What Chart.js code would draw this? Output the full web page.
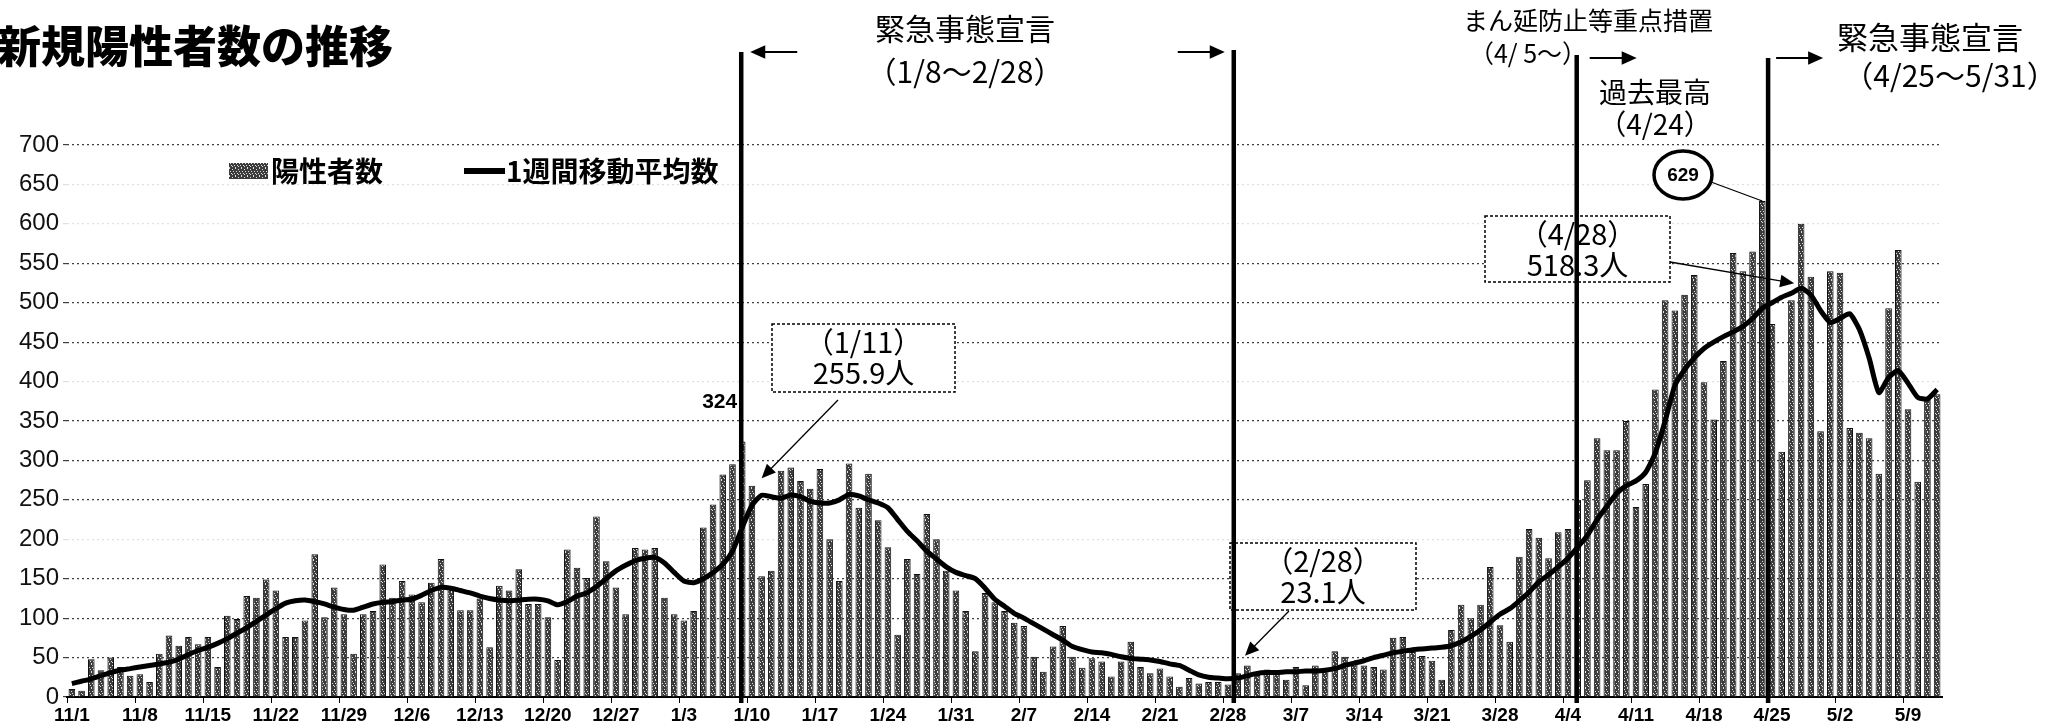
<!DOCTYPE html>
<html>
<head>
<meta charset="utf-8">
<script src="https://cdn.jsdelivr.net/npm/chart.js@4/dist/chart.umd.min.js"></script>
<style>
  html, body { margin: 0; padding: 0; background: #fff; }
  canvas { display: block; }
</style>
</head>
<body>
<canvas id="chart" width="2051" height="723"></canvas>
<script>
// Days shown: 11/1 .. 5/12 (month, last day shown)
const monthSpans = [[11, 30], [12, 31], [1, 31], [2, 28], [3, 31], [4, 30], [5, 12]];
const dates = [];
monthSpans.forEach(([m, n]) => { for (let d = 1; d <= n; d++) dates.push(m + '/' + d); });

const tickLabels = ['11/1', '11/8', '11/15', '11/22', '11/29', '12/6', '12/13', '12/20', '12/27',
  '1/3', '1/10', '1/17', '1/24', '1/31', '2/7', '2/14', '2/21', '2/28', '3/7', '3/14', '3/21',
  '3/28', '4/4', '4/11', '4/18', '4/25', '5/2', '5/9'];

// 陽性者数 (daily)
const positives = [
  10, 8, 48, 34, 50, 38, 27,
  29, 19, 55, 78, 65, 76, 67,
  76, 38, 103, 99, 128, 126, 149,
  135, 76, 76, 97, 181, 101, 139,
  105, 55, 105, 109, 168, 126, 147,
  130, 120, 145, 175, 140, 110, 110,
  125, 63, 141, 135, 162, 118, 118,
  101, 47, 187, 164, 151, 229, 172,
  139, 105, 189, 187, 189, 126, 105,
  97, 109, 215, 244, 282, 295, 324,
  268, 153, 160, 287, 291, 274, 264,
  289, 200, 147, 296, 240, 283, 224,
  190, 79, 175, 156, 232, 200, 160,
  135, 109, 58, 132, 120, 109, 94,
  90, 51, 32, 64, 90, 51, 37,
  49, 45, 26, 45, 70, 38, 30,
  36, 26, 13, 24, 17, 19, 19,
  16, 30, 40, 28, 35, 30, 22,
  38, 15, 40, 35, 58, 51, 45,
  40, 38, 35, 75, 76, 57, 52,
  46, 22, 85, 117, 100, 117, 165,
  91, 70, 178, 213, 202, 176, 209,
  213, 250, 275, 328, 313, 313, 350,
  241, 270, 390, 503, 490, 510, 535,
  399, 352, 426, 563, 540, 565, 629,
  473, 311, 503, 600, 533, 337, 540,
  538, 341, 335, 328, 283, 493, 567,
  365, 273, 377, 384
];

// 1週間移動平均数
const movingAvg = [
  17, 20, 23, 27, 31, 34, 36,
  38, 40, 42, 44, 48, 54, 59,
  63, 68, 74, 81, 88, 96, 104,
  112, 119, 122, 123, 121, 118, 114,
  111, 110, 114, 118, 120, 121, 123,
  124, 129, 135, 139, 138, 135, 132,
  128, 125, 123, 122, 123, 124, 124,
  122, 117, 121, 128, 132, 140, 150,
  160, 167, 173, 176, 177, 170, 158,
  147, 145, 150, 158, 168, 185, 215,
  243, 255.9, 254, 252, 256, 254, 248,
  246, 246, 250, 257, 255, 250, 246,
  240, 225, 210, 198, 185, 175, 165,
  158, 154, 150, 138, 124, 115, 106,
  100, 93, 86, 79, 72, 64, 60,
  57, 56, 54, 51, 49, 48, 47,
  45, 42, 40, 34, 28, 25, 24,
  23.1, 24, 27, 30, 31, 31, 32,
  32, 33, 33, 34, 36, 40, 43,
  46, 50, 53, 56, 58, 60, 61,
  62, 63, 65, 70, 77, 85, 95,
  105, 112, 122, 133, 146, 155, 165,
  176, 190, 205, 225, 242, 258, 268,
  274, 285, 310, 350, 395, 415, 430,
  442, 450, 457, 463, 470, 480, 493,
  500, 507, 512, 518.3, 510, 490, 475,
  480, 486, 466, 430, 386, 405, 414,
  398, 380, 378, 390
];

const yTicks = [0, 50, 100, 150, 200, 250, 300, 350, 400, 450, 500, 550, 600, 650, 700];
const faintGrid = [200, 400, 600, 650];

// speckled bar fill like the scanned original
function barPattern() {
  const c = document.createElement('canvas');
  c.width = 6; c.height = 8;
  const g = c.getContext('2d');
  g.fillStyle = '#3c3c3c';
  g.fillRect(0, 0, 6, 8);
  g.fillStyle = '#e0e0e0';
  [[1, 0], [4, 1], [2, 3], [5, 3], [0, 5], [3, 5], [1, 7], [4, 6]].forEach(p => g.fillRect(p[0], p[1], 1, 1));
  return g.createPattern(c, 'repeat');
}
const pattern = barPattern();

const JP = '"Noto Sans CJK JP", sans-serif';
const LAT = '"Liberation Sans", Arial, sans-serif';

function arrow(ctx, x1, y1, x2, y2, head, width) {
  const a = Math.atan2(y2 - y1, x2 - x1);
  ctx.save();
  ctx.strokeStyle = '#000';
  ctx.fillStyle = '#000';
  ctx.lineWidth = width;
  ctx.beginPath();
  ctx.moveTo(x1, y1);
  ctx.lineTo(x2 - Math.cos(a) * head * 0.8, y2 - Math.sin(a) * head * 0.8);
  ctx.stroke();
  ctx.beginPath();
  ctx.moveTo(x2, y2);
  ctx.lineTo(x2 - head * Math.cos(a) + head * 0.45 * Math.sin(a), y2 - head * Math.sin(a) - head * 0.45 * Math.cos(a));
  ctx.lineTo(x2 - head * Math.cos(a) - head * 0.45 * Math.sin(a), y2 - head * Math.sin(a) + head * 0.45 * Math.cos(a));
  ctx.closePath();
  ctx.fill();
  ctx.restore();
}

function text(ctx, s, x, y, font, align) {
  ctx.save();
  ctx.font = font;
  ctx.fillStyle = '#000';
  ctx.textAlign = align || 'center';
  ctx.textBaseline = 'middle';
  ctx.fillText(s, x, y);
  ctx.restore();
}

function callout(ctx, bx, by, bw, bh, line1, line2) {
  ctx.save();
  ctx.fillStyle = '#fff';
  ctx.fillRect(bx, by, bw, bh);
  ctx.strokeStyle = '#000';
  ctx.lineWidth = 1.5;
  ctx.setLineDash([3, 2]);
  ctx.strokeRect(bx, by, bw, bh);
  ctx.restore();
  text(ctx, line1, bx + bw / 2, by + 18, '29px ' + JP);
  text(ctx, line2, bx + bw / 2, by + 49, '29px ' + JP);
}

const annotations = {
  id: 'annotations',
  afterDatasetsDraw(chart) {
    const ctx = chart.ctx;
    const x = chart.scales.x, y = chart.scales.y;
    const base = y.getPixelForValue(0);

    // title
    text(ctx, '新規陽性者数の推移', -3, 46, '900 44px ' + JP, 'left');

    // legend
    ctx.save();
    ctx.fillStyle = pattern;
    ctx.fillRect(229, 163, 39, 16);
    ctx.restore();
    text(ctx, '陽性者数', 271, 171, 'bold 28px ' + JP, 'left');
    ctx.save();
    ctx.strokeStyle = '#000';
    ctx.lineWidth = 6;
    ctx.beginPath(); ctx.moveTo(464, 171); ctx.lineTo(505, 171); ctx.stroke();
    ctx.restore();
    text(ctx, '1週間移動平均数', 506, 171, 'bold 28px ' + JP, 'left');

    // callout boxes
    callout(ctx, 772, 324, 183, 68, '（1/11）', '255.9人');
    callout(ctx, 1230, 543, 186, 67, '（2/28）', '23.1人');
    callout(ctx, 1485, 216, 185, 66, '（4/28）', '518.3人');

    const p1x = x.getPixelForValue(71), p1y = y.getPixelForValue(255.9);
    arrow(ctx, 838, 400, p1x, p1y - 17, 14, 1.3);
    const p2x = x.getPixelForValue(119), p2y = y.getPixelForValue(23.1);
    arrow(ctx, 1289, 611, p2x + 17, p2y - 23, 14, 1.3);
    const p3x = x.getPixelForValue(178), p3y = y.getPixelForValue(518.3);
    arrow(ctx, 1670, 262, p3x - 7, p3y - 5, 14, 1.3);

    // vertical period lines
    const lines = [[68.9, 52], [119.6, 50], [154.9, 55], [174.6, 58]];
    const lx = lines.map(l => x.getPixelForValue(l[0]));
    ctx.save();
    ctx.strokeStyle = '#000';
    ctx.lineWidth = 4.5;
    lines.forEach((l, i) => {
      ctx.beginPath();
      ctx.moveTo(lx[i], l[1]);
      ctx.lineTo(lx[i], base + 6);
      ctx.stroke();
    });
    ctx.restore();

    arrow(ctx, lx[0] + 56, 52, lx[0] + 9, 52, 15, 2);
    arrow(ctx, lx[1] - 56, 52, lx[1] - 9, 52, 15, 2);
    arrow(ctx, lx[2] + 13, 58, lx[2] + 60, 58, 15, 2);
    arrow(ctx, lx[3] + 8, 58, lx[3] + 55, 58, 15, 2);

    text(ctx, '緊急事態宣言', 965, 29, '30px ' + JP);
    text(ctx, '（1/8～2/28）', 965, 72, '30px ' + JP);
    text(ctx, 'まん延防止等重点措置', 1588, 20, '25px ' + JP);
    text(ctx, '（4/ 5～）', 1528, 53, '25px ' + JP);
    text(ctx, '緊急事態宣言', 1930, 37, '31px ' + JP);
    text(ctx, '（4/25～5/31）', 1950, 76, '30px ' + JP);

    // record high marker
    text(ctx, '過去最高', 1655, 92, '28px ' + JP);
    text(ctx, '（4/24）', 1655, 124, '28px ' + JP);
    ctx.save();
    ctx.fillStyle = '#fff';
    ctx.strokeStyle = '#000';
    ctx.lineWidth = 3.5;
    ctx.beginPath();
    ctx.ellipse(1683, 175, 29, 24, 0, 0, Math.PI * 2);
    ctx.fill();
    ctx.stroke();
    ctx.lineWidth = 1.3;
    ctx.beginPath();
    ctx.moveTo(1711, 182);
    ctx.lineTo(x.getPixelForValue(174), y.getPixelForValue(629));
    ctx.stroke();
    ctx.restore();
    text(ctx, '629', 1683, 176, 'bold 19px ' + LAT);

    // value of the bar hidden behind the 1/8 line
    text(ctx, '324', lx[0] - 4, 402, 'bold 21px ' + LAT, 'right');
  }
};

new Chart(document.getElementById('chart'), {
  data: {
    labels: dates,
    datasets: [
      {
        type: 'line',
        label: '1週間移動平均数',
        data: movingAvg,
        borderColor: '#000',
        borderWidth: 5,
        pointRadius: 0,
        tension: 0.2,
        order: 1
      },
      {
        type: 'bar',
        label: '陽性者数',
        data: positives,
        backgroundColor: pattern,
        borderColor: '#111',
        borderWidth: 1,
        barPercentage: 0.68,
        categoryPercentage: 1,
        order: 2
      }
    ]
  },
  options: {
    responsive: false,
    devicePixelRatio: 1,
    animation: false,
    layout: { padding: { top: 145, right: 109, left: 0, bottom: 0 } },
    plugins: { legend: { display: false }, tooltip: { enabled: false } },
    scales: {
      x: {
        type: 'category',
        offset: true,
        afterFit(scale) { scale.height = 26; },
        grid: {
          drawOnChartArea: false,
          tickLength: 6,
          color: ctx => tickLabels.includes(dates[ctx.index]) ? '#000' : 'rgba(0,0,0,0)'
        },
        border: { display: true, color: '#000', width: 2 },
        ticks: {
          autoSkip: false,
          maxRotation: 0,
          minRotation: 0,
          padding: 1,
          color: '#000',
          font: { family: LAT, size: 19, weight: 'bold' },
          callback: (v, i) => tickLabels.includes(dates[i]) ? dates[i] : ''
        }
      },
      y: {
        min: 0,
        max: 700,
        afterFit(scale) { scale.width = 67; },
        afterBuildTicks(scale) { scale.ticks = yTicks.map(v => ({ value: v })); },
        grid: {
          tickLength: 4,
          lineWidth: 1.2,
          color: ctx => faintGrid.includes(ctx.tick && ctx.tick.value) ? 'rgba(0,0,0,0.12)' : 'rgba(0,0,0,0.75)'
        },
        border: { display: false, dash: [2, 3] },
        ticks: {
          padding: 4,
          color: '#111',
          font: { family: LAT, size: 24 }
        }
      }
    }
  },
  plugins: [annotations]
});
</script>
</body>
</html>
